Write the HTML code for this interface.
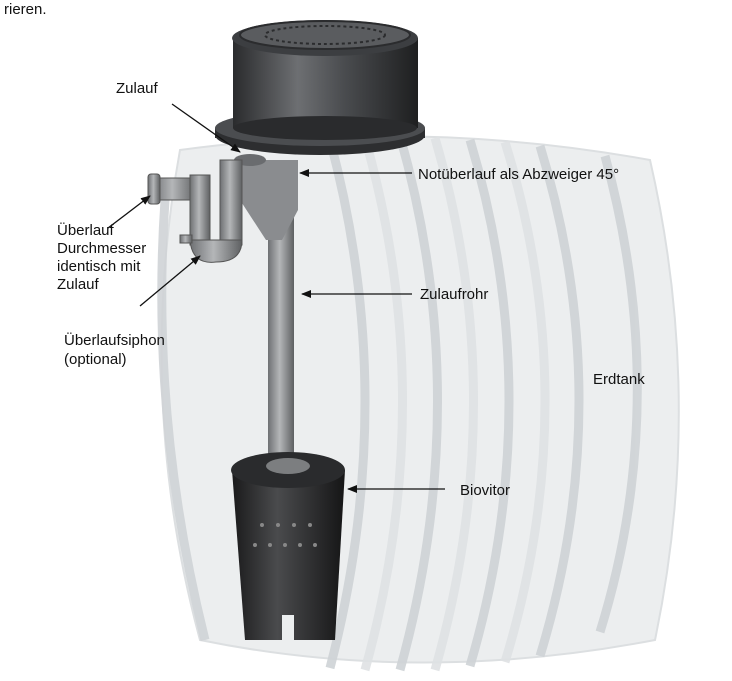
<!DOCTYPE html>
<html><head><meta charset="utf-8"><style>
html,body{margin:0;padding:0;background:#fff;}
svg{display:block;}
text{font-family:"Liberation Sans",Arial,sans-serif;font-size:15px;fill:#111;}
</style></head><body>
<svg width="732" height="681" viewBox="0 0 732 681" xmlns="http://www.w3.org/2000/svg">
<defs>
<marker id="ah" markerWidth="10" markerHeight="8" refX="9" refY="4" orient="auto" markerUnits="userSpaceOnUse">
<path d="M0,0 L10,4 L0,8 z" fill="#111"/></marker>
<linearGradient id="cyl" x1="0" x2="1"><stop offset="0" stop-color="#2a2b2d"/><stop offset="0.35" stop-color="#6d6f72"/><stop offset="0.6" stop-color="#4a4c4f"/><stop offset="1" stop-color="#1e1f20"/></linearGradient>
<linearGradient id="pipe" x1="0" x2="1"><stop offset="0" stop-color="#6e7073"/><stop offset="0.45" stop-color="#b4b6b8"/><stop offset="1" stop-color="#5e6062"/></linearGradient>
<linearGradient id="bio" x1="0" x2="1"><stop offset="0" stop-color="#1a1a1b"/><stop offset="0.4" stop-color="#4a4b4d"/><stop offset="1" stop-color="#151516"/></linearGradient>
</defs>
<text x="4" y="14">rieren.</text>
<g fill="none">
<path d="M180,150 Q420,118 650,160 Q705,400 655,640 Q420,685 200,640 Q135,400 180,150 z" fill="#eceeef" stroke="#dcdfe1" stroke-width="2"/>
<g stroke="#cfd3d6" stroke-width="9" opacity="0.9">
<path d="M165,200 Q150,420 205,640"/>
<path d="M330,140 Q400,400 330,668"/>
<path d="M400,136 Q475,400 400,670"/>
<path d="M470,140 Q548,400 470,666"/>
<path d="M540,146 Q618,400 540,656"/>
<path d="M605,156 Q672,400 600,632"/>
<path d="M365,138 Q440,400 365,670" stroke="#dfe2e4"/>
<path d="M435,138 Q512,400 435,670" stroke="#dfe2e4"/>
<path d="M505,142 Q585,400 505,662" stroke="#dfe2e4"/>
</g>
</g>
<ellipse cx="320" cy="135" rx="105" ry="20" fill="#2d2e30"/>
<rect x="215" y="128" width="210" height="10" fill="#2d2e30"/>
<ellipse cx="320" cy="128" rx="105" ry="18" fill="#4b4d50"/>
<rect x="233" y="38" width="185" height="90" fill="url(#cyl)"/>
<ellipse cx="325" cy="128" rx="92" ry="12" fill="#2a2b2d"/>
<ellipse cx="325" cy="38" rx="93" ry="18" fill="#3c3e41"/>
<ellipse cx="325" cy="35" rx="85" ry="14" fill="#5a5c5f" stroke="#2b2c2e" stroke-width="2"/>
<ellipse cx="325" cy="35" rx="60" ry="9" fill="none" stroke="#2b2c2e" stroke-width="2" stroke-dasharray="3 3"/>
<rect x="268" y="160" width="26" height="310" fill="url(#pipe)"/>
<path d="M235,160 L298,160 L298,210 L282,240 L266,240 L240,200 z" fill="#8a8c8f"/>
<ellipse cx="250" cy="160" rx="16" ry="6" fill="#6a6c6f"/>
<g fill="url(#pipe)" stroke="#555" stroke-width="1">
<rect x="152" y="178" width="45" height="22" rx="4"/>
<rect x="190" y="175" width="20" height="70"/>
<rect x="220" y="160" width="22" height="85"/>
<path d="M190,240 Q192,265 216,262 Q242,262 242,240 z"/>
<rect x="148" y="174" width="12" height="30" rx="3"/>
<rect x="180" y="235" width="12" height="8"/>
</g>
<path d="M268,455 L290,455 L345,470 L335,640 L245,640 L232,470 z" fill="url(#bio)"/>
<ellipse cx="288" cy="470" rx="57" ry="18" fill="#2a2b2d"/>
<ellipse cx="288" cy="466" rx="22" ry="8" fill="#7c7e80"/>
<g fill="#888">
<circle cx="255" cy="545" r="2"/><circle cx="270" cy="545" r="2"/><circle cx="285" cy="545" r="2"/><circle cx="300" cy="545" r="2"/><circle cx="315" cy="545" r="2"/>
<circle cx="262" cy="525" r="2"/><circle cx="278" cy="525" r="2"/><circle cx="294" cy="525" r="2"/><circle cx="310" cy="525" r="2"/>
</g>
<rect x="282" y="615" width="12" height="25" fill="#eceeef"/>
<text x="116" y="93">Zulauf</text>
<text x="418" y="179">Notüberlauf als Abzweiger 45°</text>
<text x="57" y="235">Überlauf</text>
<text x="57" y="253">Durchmesser</text>
<text x="57" y="271">identisch mit</text>
<text x="57" y="289">Zulauf</text>
<text x="420" y="299">Zulaufrohr</text>
<text x="64" y="345">Überlaufsiphon</text>
<text x="64" y="364">(optional)</text>
<text x="593" y="384">Erdtank</text>
<text x="460" y="495">Biovitor</text>
<g stroke="#111" stroke-width="1.3" fill="none" marker-end="url(#ah)">
<line x1="172" y1="104" x2="240" y2="152"/>
<line x1="412" y1="173" x2="300" y2="173"/>
<line x1="108" y1="228" x2="150" y2="196"/>
<line x1="140" y1="306" x2="200" y2="256"/>
<line x1="412" y1="294" x2="302" y2="294"/>
<line x1="445" y1="489" x2="348" y2="489"/>
</g>
</svg>
</body></html>
